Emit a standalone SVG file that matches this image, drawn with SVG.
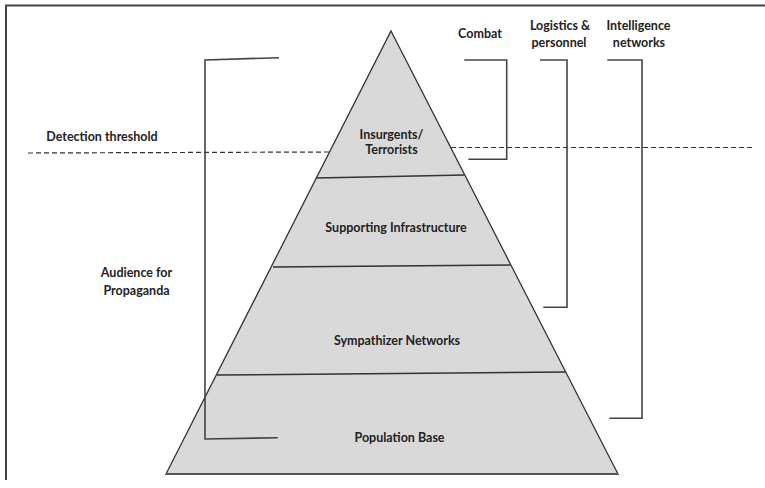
<svg xmlns="http://www.w3.org/2000/svg" width="765" height="488" viewBox="0 0 765 488">
<style>
text{font-family:Lato,"Liberation Sans",sans-serif;font-weight:bold;font-size:12.5px;fill:#222;text-anchor:middle}
.ln{stroke:#333;stroke-width:1.5;fill:none}
.br{stroke:#444;stroke-width:1.6;fill:none}
.dash{stroke:#333;stroke-width:1.2;stroke-dasharray:5 3;fill:none}
</style>
<rect width="765" height="488" fill="#fff"/>
<g id="frame">
<path d="M6,480 V5.5 H765" stroke="#444" stroke-width="2" fill="none"/>
</g>
<g id="pyramid">
<polygon points="391,31 618,474 166,474" fill="#d9d9d9" stroke="#333" stroke-width="1.3"/>
<path d="M166,474 H618" stroke="#555" stroke-width="2"/>
</g>
<g id="layers">
<line class="ln" x1="316.5" y1="178" x2="464.5" y2="175"/>
<line class="ln" x1="273" y1="267" x2="510.5" y2="265"/>
<line class="ln" x1="217" y1="375" x2="565.5" y2="372"/>
</g>
<g id="node-insurgents"><text x="391.5" y="139">Insurgents/</text><text x="391.5" y="154">Terrorists</text></g>
<g id="node-infrastructure"><text x="396" y="232">Supporting Infrastructure</text></g>
<g id="node-sympathizer"><text x="397" y="345">Sympathizer Networks</text></g>
<g id="node-population"><text x="399.5" y="442">Population Base</text></g>
<g id="label-detection"><text x="102" y="140.5">Detection threshold</text></g>
<g id="label-audience"><text x="136.5" y="277">Audience for</text><text x="136.5" y="295">Propaganda</text></g>
<g id="label-combat"><text x="480" y="37.5">Combat</text></g>
<g id="label-logistics"><text x="560" y="30">Logistics &amp;</text><text x="559" y="46.5">personnel</text></g>
<g id="label-intelligence"><text x="638.5" y="30">Intelligence</text><text x="639" y="46.5">networks</text></g>
<g id="connectors">
<path class="dash" d="M28,153 L330,152"/>
<path class="dash" d="M451,147.5 L753,147.5" stroke-width="1.8" stroke="#444" stroke-dasharray="6 3"/>
<path class="br" d="M279,57.7 L205,60 V439 L277.7,437.7"/>
<path class="br" d="M464.3,60 H506.7 V159.3 H468.3"/>
<path class="br" d="M540,60 H567 V307.3 H543.3"/>
<path class="br" d="M607.3,60 H642 V418.3 H609.3"/>
</g>
</svg>
